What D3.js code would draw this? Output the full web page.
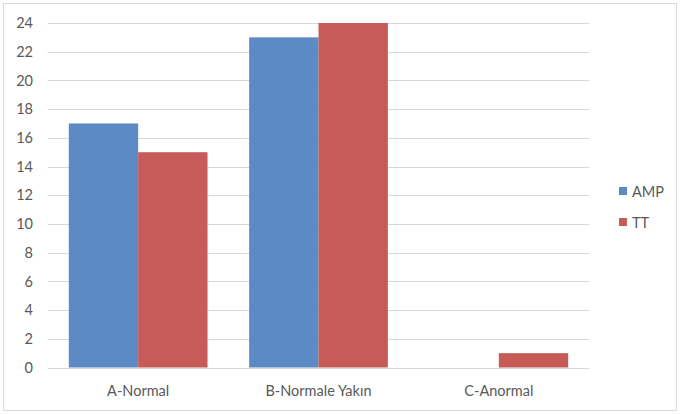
<!DOCTYPE html>
<html>
<head>
<meta charset="utf-8">
<script src="https://cdn.jsdelivr.net/npm/d3@7"></script>
<style>
  html, body { margin: 0; padding: 0; background: #fff; }
  svg text { font-family: Lato, "Open Sans", "Liberation Sans", sans-serif; fill: #595959; }
</style>
</head>
<body>
<svg id="chart" width="680" height="414"></svg>
<script>
const categories = ["A-Normal", "B-Normale Yakın", "C-Anormal"];
const seriesNames = ["AMP", "TT"];
const ampValues = [17, 23, 0];
const ttValues = [15, 24, 1];
const yTicks = [0, 2, 4, 6, 8, 10, 12, 14, 16, 18, 20, 22, 24];
const colors = ["#5B8AC5", "#C65B57"];

const svg = d3.select("#chart");
const W = 680, H = 414;
const plot = { left: 48, right: 589, top: 23, bottom: 367.5 };
const fontSize = 14.5;

// chart frame
svg.append("rect")
  .attr("x", 3.5).attr("y", 3.5)
  .attr("width", W - 7).attr("height", H - 7)
  .attr("fill", "#fff").attr("stroke", "#D9D9D9").attr("stroke-width", 1);

const x0 = d3.scaleBand().domain(categories)
  .range([plot.left, plot.right]).paddingInner(0).paddingOuter(0);
const barW = x0.bandwidth() / (2 + 0.6);
const x1 = d3.scaleBand().domain(seriesNames)
  .range([0, barW * 2]);
const y = d3.scaleLinear().domain([0, 24]).range([plot.bottom, plot.top]);

// horizontal gridlines
svg.append("g").selectAll("line").data(yTicks).join("line")
  .attr("x1", plot.left).attr("x2", plot.right)
  .attr("y1", d => Math.round(y(d)) + 0.5).attr("y2", d => Math.round(y(d)) + 0.5)
  .attr("stroke", "#D9D9D9").attr("stroke-width", 1);

// y axis labels
const yAxis = d3.axisLeft(y).tickValues(yTicks).tickSize(0).tickPadding(0);
const gy = svg.append("g").attr("transform", `translate(${plot.left - 15},0)`).call(yAxis);
gy.select(".domain").remove();
gy.selectAll("text").attr("font-size", fontSize).attr("fill", "#595959")
  .attr("font-family", "Lato, 'Open Sans', sans-serif");

// bars
const rows = categories.map((c, i) => ({ cat: c, vals: [ampValues[i], ttValues[i]] }));
const groups = svg.append("g").selectAll("g").data(rows).join("g")
  .attr("transform", d => `translate(${x0(d.cat) + (x0.bandwidth() - barW * 2) / 2},0)`);
groups.selectAll("rect")
  .data(d => d.vals.map((v, j) => ({ name: seriesNames[j], v, j })).filter(e => e.v > 0))
  .join("rect")
  .attr("x", d => x1(d.name))
  .attr("width", x1.bandwidth())
  .attr("y", d => y(d.v))
  .attr("height", d => y(0) - y(d.v))
  .attr("fill", d => colors[d.j]);

// x axis labels
const xAxis = d3.axisBottom(x0).tickSize(0).tickPadding(0);
const gx = svg.append("g").attr("transform", `translate(0,${plot.bottom})`).call(xAxis);
gx.select(".domain").remove();
gx.selectAll("text").attr("font-size", fontSize).attr("fill", "#595959")
  .attr("font-family", "Lato, 'Open Sans', sans-serif")
  .attr("y", 28.5).attr("dy", 0);

// legend
const legend = svg.append("g").attr("transform", "translate(619,187)");
const li = legend.selectAll("g").data(seriesNames).join("g")
  .attr("transform", (d, i) => `translate(0,${i * 31})`);
li.append("rect").attr("width", 8).attr("height", 8).attr("fill", (d, i) => colors[i]);
li.append("text").attr("x", 13).attr("y", 10).attr("font-size", fontSize).text(d => d);
</script>
</body>
</html>
